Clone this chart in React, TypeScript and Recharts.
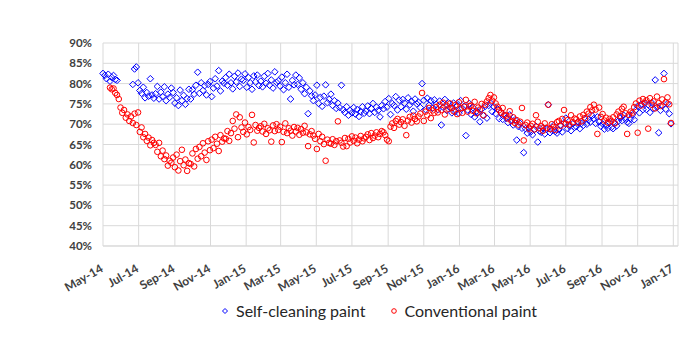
import { CartesianGrid, Scatter, ScatterChart, XAxis, YAxis } from "recharts";

// one reading every 3 days, starting 1 May 2014
const START = Date.UTC(2014, 4, 1);
const STEP_DAYS = 3;
const DAY_MS = 86400000;

const tickDates = [
  "2014-05-01", "2014-07-01", "2014-09-01", "2014-11-01", "2015-01-01", "2015-03-01",
  "2015-05-01", "2015-07-01", "2015-09-01", "2015-11-01", "2016-01-01", "2016-03-01",
  "2016-05-01", "2016-07-01", "2016-09-01", "2016-11-01", "2017-01-01",
];
const tickLabels = [
  "May-14", "Jul-14", "Sep-14", "Nov-14", "Jan-15", "Mar-15", "May-15", "Jul-15", "Sep-15",
  "Nov-15", "Jan-16", "Mar-16", "May-16", "Jul-16", "Sep-16", "Nov-16", "Jan-17",
];
const yTicks = [40, 45, 50, 55, 60, 65, 70, 75, 80, 85, 90];

const selfCleaning: (number | null)[] = [
  82.5, 82, 81.2, 82.3, 80.6, 81.5, 82, 81, 80.8, null,
  null, null, null, null, null, null, null, 79.8, 83.6, 84.1,
  80.2, 78.3, 77.6, 79.1, 76.5, 77.8, 76.9, 81.2, 77.2, 76.4,
  77.5, 79.3, 76.2, 77.9, 76.8, 79.2, 75.8, 77.4, 76.6, 78.9,
  77.8, 75.2, 76.5, 74.6, 78.4, 75.8, 77.1, 74.9, 76.3, 78.6,
  76.2, 78.5, 77.4, 79.6, 82.8, 77.6, 80.2, 78.3, 79.5, 77.2,
  79.8, 80.5, 76.8, 78.9, 81.2, 79.4, 83.2, 78.2, 80.6, 80.1,
  81.5, 79.6, 82.3, 80.2, 78.7, 81.8, 80.4, 82.6, 79.3, 81.1,
  80.8, 82.4, 79.1, 81.5, 80.2, 78.6, 81.9, 80.4, 82.1, 79.5,
  80.6, 79.2, 81.8, 80.1, 82.5, 79.6, 80.9, 78.9, 82.9, 80.3,
  80.7, 79.4, 81.6, 78.5, 80.2, 82.3, 79.1, 76.2, 80.8, 79.7,
  82.1, 79.8, 81.4, 78.6, 80.2, 77.5, 79.1, 72.6, 78.2, 77.0,
  75.8, 77.2, 79.6, 75.1, 76.6, 74.4, 76.9, 79.7, 75.3, 76.1,
  77.4, 74.6, 75.8, 73.9, 75.2, 74.1, 79.6, 73.6, 72.9, 74.3,
  72.2, 73.4, 72.8, 74.1, 72.5, 73.6, 71.9, 73.1, 74.3, 72.7,
  73.2, 74.5, 72.6, 73.9, 75.1, 72.9, 74.2, 73.4, 71.8, 74.6,
  73.8, 75.6, 74.2, 76.3, 72.4, 75.1, 74.6, 76.8, 73.5, 75.9,
  74.3, 76.1, 75.2, 73.7, 76.5, 74.8, 75.6, 73.2, 76.2, 75.0,
  75.4, 74.1, 80.0, 75.9, 73.6, 76.4, 74.7, 75.8, 73.9, 76.0,
  74.9, 73.6, 75.7, 69.8, 74.2, 76.1, 73.4, 75.3, 74.0, 72.8,
  75.2, 73.1, 74.6, 72.7, 75.8, 73.9, 74.4, 67.2, 73.5, 75.1,
  72.4, 74.1, 71.8, 73.2, 72.9, 70.6, 73.7, 72.1, 74.4, 71.5,
  74.6, 75.2, 73.1, 74.3, 72.6, 73.8, 71.4, 72.9, 71.2, 72.2,
  71.5, 70.4, 72.3, 70.9, 69.8, 71.1, 66.1, 69.4, 70.2, 69.0,
  63.0, 68.9, 67.8, 69.2, 68.1, 67.4, 68.7, 69.5, 65.6, 68.3,
  68.0, 69.1, 67.6, 68.8, 74.8, 67.9, 68.5, 69.7, 68.2, 67.8,
  68.6, 69.8, 68.1, 70.3, 71.5, 68.9, 69.6, 68.4, 70.1, 69.2,
  69.4, 70.6, 68.9, 70.2, 69.7, 71.3, 70.0, 71.1, 70.5, 72.1,
  71.4, 70.2, 71.8, 70.6, 69.5, 70.1, 68.8, 69.7, 69.0, 70.4,
  69.2, 68.9, 70.3, 69.6, 70.8, 71.6, 70.9, 72.2, 71.3, 70.5,
  70.2, 71.4, 72.3, 71.1, 73.5, 74.4, 72.8, 74.9, 73.6, 75.1,
  73.6, 74.8, 72.9, 75.3, 73.8, 80.9, 74.2, 67.9, 73.4, 74.6,
  82.5, 73.7, 75.1, 72.6, 70.1,
];

const conventional: (number | null)[] = [
  null, null, null, null, 79.0, 78.6, 78.8, 77.7, 77.2, 76.2,
  74.1, 72.8, 73.5, 71.6, 72.4, 70.8, 71.9, 70.3, 72.6, 69.8,
  72.9, 68.1, 69.2, 66.8, 67.6, 65.9, 66.7, 64.8, 66.1, 65.4,
  64.9, 63.2, 65.4, 62.1, 63.5, 61.4, 62.3, 59.8, 61.0, 60.5,
  61.8, 59.4, 62.5, 58.6, 60.9, 63.7, 59.9, 61.3, 58.5, 60.4,
  60.2, 62.8, 59.6, 63.9, 61.5, 64.4, 62.1, 65.3, 63.0, 61.2,
  65.8, 63.6, 66.2, 64.1, 66.9, 65.2, 63.4, 67.3, 65.7, 66.5,
  66.4, 68.3, 65.9, 67.8, 70.8, 68.9, 72.4, 66.8, 71.7, 69.2,
  68.1, 70.4, 67.5, 69.3, 68.6, 72.3, 65.5, 69.8, 68.4, 69.1,
  69.5, 68.2, 70.1, 67.6, 69.0, 68.5, 65.7, 69.7, 68.3, 70.0,
  68.6, 69.4, 65.6, 68.1, 70.2, 67.8, 69.0, 68.4, 67.2, 69.3,
  68.2, 69.1, 67.4, 68.8, 67.9, 69.6, 68.0, 64.6, 67.5, 68.3,
  67.2, 66.4, 63.9, 67.6, 65.8, 66.9, 65.1, 61.0, 66.2, 65.4,
  65.2, 66.3, 64.9, 65.8, 70.7, 66.0, 65.4, 64.5, 66.6, 64.6,
  66.4, 65.5, 67.0, 65.9, 66.7, 65.3, 66.2, 67.1, 65.8, 66.5,
  66.9, 67.5, 66.1, 67.8, 66.6, 67.2, 68.0, 66.8, 67.6, 68.3,
  68.0, 67.3, 66.2, 65.8, 69.4, 70.2, 69.1, 70.8, 71.3, 69.9,
  70.5, 71.2, 69.6, 67.3, 70.9, 71.8, 70.4, 72.1, 71.3, 70.7,
  71.9, 72.6, 77.7, 70.8, 73.1, 72.2, 74.0, 71.5, 73.4, 72.8,
  74.2, 72.9, 74.8, 73.5, 75.3, 72.4, 74.6, 73.8, 75.1, 74.0,
  73.2, 74.7, 72.5, 75.4, 73.9, 72.8, 74.3, 76.0, 73.1, 74.5,
  74.6, 73.3, 75.5, 72.7, 74.1, 73.6, 75.0, 72.2, 74.8, 75.6,
  76.4, 77.2, 75.8, 76.6, 75.1, 74.3, 73.5, 72.8, 74.0, 72.3,
  72.1, 71.4, 73.2, 70.8, 71.7, 70.3, 71.0, 69.9, 70.6, 74.0,
  66.0, 69.8, 70.4, 68.9, 69.6, 70.1, 68.7, 72.2, 70.6, 69.0,
  69.5, 68.4, 70.2, 69.1, 74.8, 68.8, 70.0, 69.3, 68.6, 70.5,
  70.8, 69.6, 71.3, 73.5, 70.1, 71.0, 69.9, 72.2, 70.5, 71.4,
  71.2, 70.4, 71.9, 70.7, 72.3, 71.5, 73.1, 72.6, 74.2, 73.4,
  74.8, 73.6, 67.6, 74.1, 71.8, 72.5, 70.9, 71.6, 70.4, 71.3,
  70.8, 71.7, 70.2, 72.4, 73.1, 72.0, 73.8, 74.3, 72.7, 67.6,
  72.3, 73.1, 72.8, 74.2, 75.1, 67.9, 75.8, 74.6, 76.2, 75.3,
  75.9, 68.9, 76.4, 74.8, 75.6, 73.9, 76.8, 75.2, 74.5, 76.1,
  81.1, 75.4, 76.6, 74.9, 70.3,
];

const BLUE = "#0000ff";
const RED = "#ff0000";
const FONT = "Lato, 'Open Sans', sans-serif";

const dayOf = (iso: string) => (Date.parse(iso) - START) / DAY_MS;
const tickDays = tickDates.map(dayOf);

function toPoints(values: (number | null)[]) {
  return values.flatMap((v, i) => (v == null ? [] : [{ day: i * STEP_DAYS, value: v }]));
}

const blueData = toPoints(selfCleaning);
const redData = toPoints(conventional);

function Diamond(props: any) {
  const { cx, cy } = props;
  const r = 3.3;
  return (
    <path
      d={`M${cx},${cy - r}L${cx + r},${cy}L${cx},${cy + r}L${cx - r},${cy}Z`}
      fill="none"
      stroke={BLUE}
      strokeWidth={1}
    />
  );
}

function Ring(props: any) {
  const { cx, cy } = props;
  return <circle cx={cx} cy={cy} r={2.8} fill="none" stroke={RED} strokeWidth={1} />;
}

function DateTick(props: any) {
  const { x, y, payload } = props;
  const label = tickLabels[tickDays.indexOf(payload.value)] ?? "";
  const tx = x + 1;
  const ty = y + 17;
  return (
    <text
      x={tx}
      y={ty}
      transform={`rotate(-30, ${tx}, ${ty})`}
      textAnchor="end"
      fill="#404040"
      fontSize={12}
      fontWeight={700}
      fontFamily={FONT}
    >
      {label}
    </text>
  );
}

export default function App() {
  return (
    <div style={{ position: "relative", width: 689, height: 330 }}>
      <ScatterChart width={689} height={330} margin={{ top: 35, right: 19, bottom: 0, left: 35 }}>
        <CartesianGrid stroke="#d9d9d9" />
        <XAxis
          type="number"
          dataKey="day"
          domain={[0, 984]}
          ticks={tickDays}
          tick={<DateTick />}
          tickLine={false}
          axisLine={{ stroke: "#d9d9d9" }}
          height={92}
          interval={0}
        />
        <YAxis
          type="number"
          dataKey="value"
          domain={[40, 90]}
          ticks={yTicks}
          tickFormatter={(v) => `${v}%`}
          tick={{ fill: "#404040", fontSize: 11.5, fontWeight: 700, fontFamily: FONT }}
          tickLine={false}
          tickMargin={5}
          axisLine={false}
          width={60}
          interval={0}
        />
        <Scatter name="Self-cleaning paint" data={blueData} shape={<Diamond />} isAnimationActive={false} />
        <Scatter name="Conventional paint" data={redData} shape={<Ring />} isAnimationActive={false} />
      </ScatterChart>
      <div
        style={{
          position: "absolute",
          top: 293,
          left: 212,
          display: "flex",
          alignItems: "center",
          fontFamily: FONT,
          fontSize: 16,
          color: "#262626",
          whiteSpace: "nowrap",
        }}
      >
        <svg width={10} height={10}>
          <path d="M5,2.5L7.5,5L5,7.5L2.5,5Z" fill="none" stroke={BLUE} strokeWidth={1} />
        </svg>
        <span style={{ marginLeft: 6 }}>Self-cleaning paint</span>
        <svg width={10} height={10} style={{ marginLeft: 24 }}>
          <circle cx={5} cy={5} r={2.3} fill="none" stroke={RED} strokeWidth={1} />
        </svg>
        <span style={{ marginLeft: 5 }}>Conventional paint</span>
      </div>
    </div>
  );
}
